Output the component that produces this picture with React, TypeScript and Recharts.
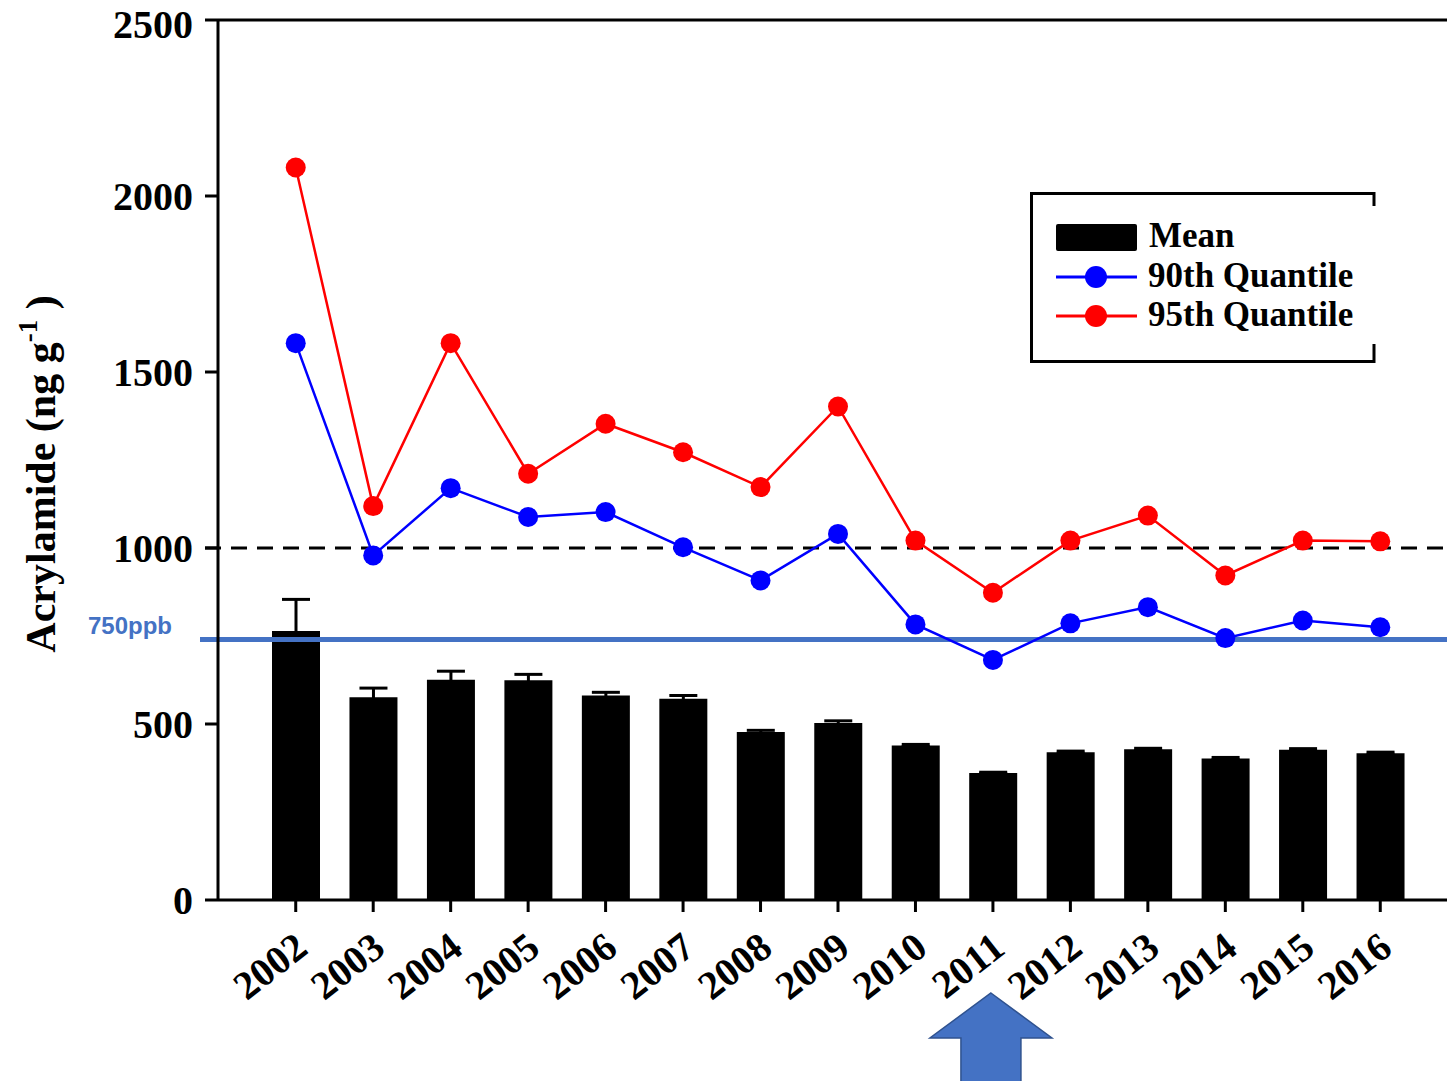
import {
  Bar,
  ComposedChart,
  ErrorBar,
  Label,
  Legend,
  Line,
  ReferenceLine,
  XAxis,
  YAxis,
} from "recharts";

const years = [
  "2002", "2003", "2004", "2005", "2006", "2007", "2008", "2009",
  "2010", "2011", "2012", "2013", "2014", "2015", "2016",
];
const meanValues = [764, 576, 626, 624, 581, 572, 477, 503, 439, 361, 420, 428, 402, 427, 417];
const meanErrors = [90, 26, 24, 17, 9, 9, 5, 6, 3, 2, 3, 3, 3, 3, 3];
const q90Values = [1582, 979, 1170, 1088, 1102, 1002, 908, 1040, 783, 682, 786, 832, 744, 794, 775];
const q95Values = [2081, 1119, 1582, 1211, 1353, 1272, 1173, 1402, 1021, 873, 1021, 1092, 922, 1021, 1019];
const yTicks = [0, 500, 1000, 1500, 2000, 2500];
const limitValue = 1000;
const benchmarkValue = 740;
const benchmarkLabel = "750ppb";
const arrowYear = "2011";

const data = years.map((year, i) => ({
  year,
  mean: meanValues[i],
  err: meanErrors[i],
  q90: q90Values[i],
  q95: q95Values[i],
}));

const SERIF = "'Liberation Serif', 'Times New Roman', serif";
const BLUE_LINE = "#4472C4";

function XTick({ x, y, payload }: any) {
  return (
    <text
      x={x + 14}
      y={y + 38}
      transform={`rotate(-38, ${x + 14}, ${y + 38})`}
      textAnchor="end"
      fontFamily={SERIF}
      fontWeight="bold"
      fontSize={40}
      fill="#000"
    >
      {payload.value}
    </text>
  );
}

function YTitle({ viewBox }: any) {
  const cy = viewBox.y + viewBox.height / 2 + 14;
  const cx = 55;
  return (
    <text
      x={cx}
      y={cy}
      transform={`rotate(-90, ${cx}, ${cy})`}
      textAnchor="middle"
      fontFamily={SERIF}
      fontWeight="bold"
      fontSize={42}
      fill="#000"
    >
      Acrylamide (ng g
      <tspan dy={-18} fontSize={27}>-1</tspan>
      <tspan dy={18}> )</tspan>
    </text>
  );
}

function DashedLimit({ x1, y1, x2 }: any) {
  return (
    <line x1={x1 - 13} y1={y1} x2={x2} y2={y1} stroke="#000" strokeWidth={3} strokeDasharray="16 10" />
  );
}

function Benchmark({ x1, y1, x2 }: any) {
  return (
    <g>
      <line x1={x1 - 18} y1={y1} x2={x2} y2={y1} stroke={BLUE_LINE} strokeWidth={5} />
      <text
        x={x1 - 46}
        y={y1 - 6}
        textAnchor="end"
        fontFamily="'Liberation Sans', Arial, sans-serif"
        fontWeight="bold"
        fontSize={24}
        fill={BLUE_LINE}
      >
        {benchmarkLabel}
      </text>
    </g>
  );
}

function TopFrame({ x1, y1, x2 }: any) {
  return <line x1={x1} y1={y1} x2={x2} y2={y1} stroke="#000" strokeWidth={3} />;
}

function Arrow({ x1, y1, y2 }: any) {
  const cx = x1 - 2;
  const bottom = Math.max(y1, y2);
  const tip = bottom + 93;
  const base = bottom + 138;
  const end = bottom + 190;
  const pts = [
    [cx, tip],
    [cx + 61, base],
    [cx + 30, base],
    [cx + 30, end],
    [cx - 30, end],
    [cx - 30, base],
    [cx - 61, base],
  ]
    .map((p) => p.join(","))
    .join(" ");
  return <polygon points={pts} fill={BLUE_LINE} stroke="#2F528F" strokeWidth={1.5} />;
}

function LegendBox() {
  return (
    <svg width={348} height={172} style={{ display: "block" }}>
      <path
        d="M 344 14 L 344 1.5 L 1.5 1.5 L 1.5 169.5 L 344 169.5 L 344 152"
        fill="none"
        stroke="#000"
        strokeWidth={3}
      />
      <rect x={26} y={32} width={81} height={27} fill="#000" rx={2} />
      <line x1={26} y1={85} x2={107} y2={85} stroke="#0000FF" strokeWidth={3} />
      <circle cx={66} cy={85} r={11} fill="#0000FF" />
      <line x1={26} y1={124} x2={107} y2={124} stroke="#FF0000" strokeWidth={3} />
      <circle cx={66} cy={124} r={11} fill="#FF0000" />
      <g fontFamily={SERIF} fontWeight="bold" fontSize={35} fill="#000">
        <text x={119} y={55}>Mean</text>
        <text x={118} y={95}>90th Quantile</text>
        <text x={118} y={134}>95th Quantile</text>
      </g>
    </svg>
  );
}

export default function App() {
  return (
    <div style={{ position: "absolute", left: 0, top: 0, width: 1447, height: 1081, background: "#fff" }}>
      <ComposedChart
        width={1447}
        height={1081}
        data={data}
        margin={{ top: 20, right: 0, left: 0, bottom: 0 }}
      >
        <XAxis
          dataKey="year"
          height={181}
          padding={{ left: 39, right: 28 }}
          axisLine={{ stroke: "#000", strokeWidth: 3 }}
          tickLine={{ stroke: "#000", strokeWidth: 3 }}
          tickSize={12}
          interval={0}
          tick={<XTick />}
        />
        <YAxis
          width={218}
          domain={[0, 2500]}
          ticks={yTicks}
          axisLine={{ stroke: "#000", strokeWidth: 3 }}
          tickLine={{ stroke: "#000", strokeWidth: 3 }}
          tickSize={13}
          tickMargin={12}
          tick={{ fontFamily: SERIF, fontWeight: "bold", fontSize: 40, fill: "#000" }}
        >
          <Label content={<YTitle />} />
        </YAxis>
        <ReferenceLine y={2500} shape={<TopFrame />} />
        <Bar dataKey="mean" fill="#000" barSize={48} isAnimationActive={false}>
          <ErrorBar dataKey="err" width={14} stroke="#000" strokeWidth={3} direction="y" />
        </Bar>
        <ReferenceLine y={limitValue} shape={<DashedLimit />} />
        <ReferenceLine y={benchmarkValue} shape={<Benchmark />} />
        <Line
          dataKey="q90"
          stroke="#0000FF"
          strokeWidth={2.5}
          dot={{ r: 10, fill: "#0000FF", stroke: "none" }}
          activeDot={false}
          isAnimationActive={false}
        />
        <Line
          dataKey="q95"
          stroke="#FF0000"
          strokeWidth={2.5}
          dot={{ r: 10, fill: "#FF0000", stroke: "none" }}
          activeDot={false}
          isAnimationActive={false}
        />
        <ReferenceLine x={arrowYear} shape={<Arrow />} />
        <Legend
          layout="vertical"
          align="center"
          verticalAlign="middle"
          content={<LegendBox />}
          wrapperStyle={{ position: "absolute", left: 1030, top: 192, width: 348, height: 172 }}
        />
      </ComposedChart>
    </div>
  );
}
